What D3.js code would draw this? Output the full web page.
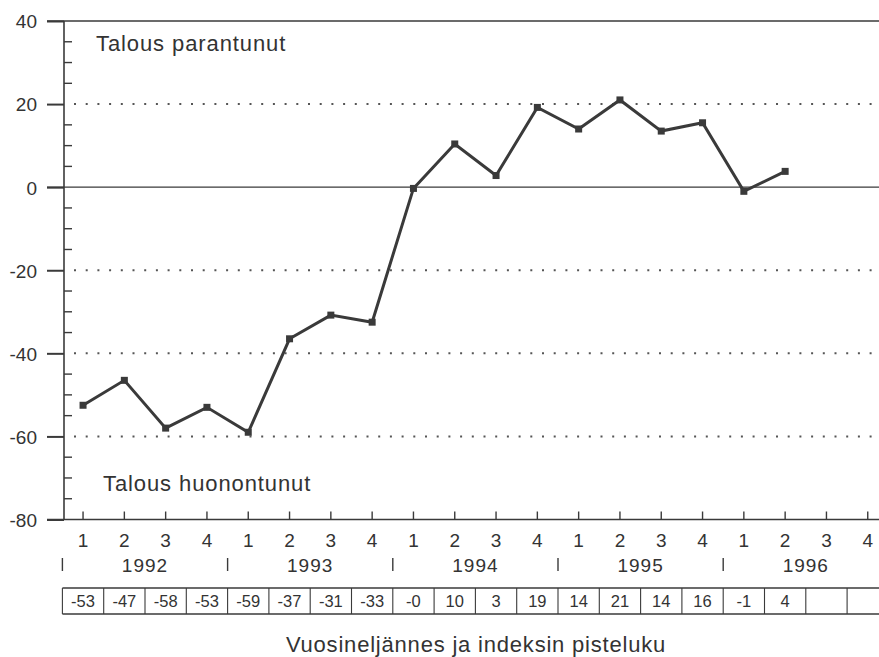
<!DOCTYPE html>
<html>
<head>
<meta charset="utf-8">
<script src="https://cdn.jsdelivr.net/npm/d3@7"></script>
<style>
  body { margin: 0; background: #fff; }
  svg text { font-family: "Liberation Sans", Arial, sans-serif; fill: #333; }
</style>
</head>
<body>
<div id="chart"></div>
<script>
// Quarters 1992 Q1 .. 1996 Q4
var years = ["1992", "1993", "1994", "1995", "1996"];
var quarterLabels = ["1", "2", "3", "4"];
// plotted index values
var indexValues = [-52.5, -46.5, -58, -53, -59, -36.5, -30.8, -32.5, -0.3, 10.4, 2.8, 19.2, 14, 21, 13.5, 15.5, -1, 3.8];
// table row under the axis
var tableLabels = ["-53", "-47", "-58", "-53", "-59", "-37", "-31", "-33", "-0", "10", "3", "19", "14", "21", "14", "16", "-1", "4", "", ""];
var yTicks = [40, 20, 0, -20, -40, -60, -80];
var dottedAt = [20, -20, -40, -60];
var upperNote = "Talous parantunut";
var lowerNote = "Talous huonontunut";
var footer = "Vuosineljännes ja indeksin pisteluku";

var W = 879, H = 657;
var ink = "#3a3a3a";

var svg = d3.select("#chart").append("svg")
    .attr("width", W)
    .attr("height", H);

// quarter index 0..19
var quarters = d3.range(years.length * 4);

var x = d3.scaleBand()
    .domain(quarters)
    .range([62.4, 888.4])
    .paddingInner(0);
var xc = function(i) { return x(i) + x.bandwidth() / 2; };

var y = d3.scaleLinear()
    .domain([-80, 40])
    .range([519.5, 21]);

var axisX = 64;

// dotted reference lines
svg.selectAll(".dot-line")
    .data(dottedAt)
    .enter().append("line")
    .attr("class", "dot-line")
    .attr("x1", 74).attr("x2", W)
    .attr("y1", function(d) { return y(d); })
    .attr("y2", function(d) { return y(d); })
    .attr("stroke", "#555")
    .attr("stroke-width", 2)
    .attr("stroke-dasharray", "2,9.7");

// solid horizontal lines (top, zero, bottom)
svg.selectAll(".solid-line")
    .data([40, 0, -80])
    .enter().append("line")
    .attr("class", "solid-line")
    .attr("x1", 47).attr("x2", W)
    .attr("y1", function(d) { return y(d); })
    .attr("y2", function(d) { return y(d); })
    .attr("stroke", ink)
    .attr("stroke-width", 1.4);

// y axis with minor ticks
var yAxis = d3.axisLeft(y)
    .tickValues(yTicks)
    .tickSize(17)
    .tickPadding(10)
    .tickFormat(function(d) { return String(d); });

var yg = svg.append("g")
    .attr("transform", "translate(" + axisX + ",0)")
    .call(yAxis);
yg.select(".domain").remove();
yg.selectAll(".tick line").attr("stroke", ink).attr("stroke-width", 2);
yg.selectAll(".tick text")
    .attr("font-size", 19)
    .attr("fill", "#333")
    .attr("dy", "0.36em");

svg.append("line")
    .attr("x1", axisX).attr("x2", axisX)
    .attr("y1", y(40)).attr("y2", y(-80))
    .attr("stroke", ink)
    .attr("stroke-width", 1.6);

var minor = d3.range(-80, 41, 5).filter(function(v) { return v % 20 !== 0; });
svg.selectAll(".minor")
    .data(minor)
    .enter().append("line")
    .attr("class", "minor")
    .attr("x1", axisX).attr("x2", axisX + 8)
    .attr("y1", function(d) { return y(d); })
    .attr("y2", function(d) { return y(d); })
    .attr("stroke", ink)
    .attr("stroke-width", 1.4);

// x axis: ticks point up from the bottom line
var xAxis = d3.axisBottom(x)
    .tickSizeInner(-8)
    .tickSizeOuter(0)
    .tickPadding(14)
    .tickFormat(function(i) { return quarterLabels[i % 4]; });

var xg = svg.append("g")
    .attr("transform", "translate(0," + y(-80) + ")")
    .call(xAxis);
xg.select(".domain").remove();
xg.selectAll(".tick line").attr("stroke", ink).attr("stroke-width", 1.4);
xg.selectAll(".tick text")
    .attr("font-size", 19)
    .attr("fill", "#333");

// year labels and separators
svg.selectAll(".year")
    .data(years)
    .enter().append("text")
    .attr("class", "year")
    .attr("x", function(d, k) { return (x(k * 4) + x(k * 4 + 3) + x.bandwidth()) / 2; })
    .attr("y", 572)
    .attr("text-anchor", "middle")
    .attr("font-size", 19)
    .attr("letter-spacing", 1)
    .text(function(d) { return d; });

svg.selectAll(".year-sep")
    .data(years)
    .enter().append("line")
    .attr("class", "year-sep")
    .attr("x1", function(d, k) { return x(k * 4); })
    .attr("x2", function(d, k) { return x(k * 4); })
    .attr("y1", 558).attr("y2", 571)
    .attr("stroke", ink)
    .attr("stroke-width", 1.4);

// value table
var tableTop = 588, tableBottom = 614;
svg.append("line")
    .attr("x1", x(0)).attr("x2", W)
    .attr("y1", tableTop).attr("y2", tableTop)
    .attr("stroke", ink).attr("stroke-width", 1.3);
svg.append("line")
    .attr("x1", x(0)).attr("x2", W)
    .attr("y1", tableBottom).attr("y2", tableBottom)
    .attr("stroke", ink).attr("stroke-width", 1.3);
svg.selectAll(".cell-sep")
    .data(quarters)
    .enter().append("line")
    .attr("class", "cell-sep")
    .attr("x1", function(i) { return x(i); })
    .attr("x2", function(i) { return x(i); })
    .attr("y1", tableTop).attr("y2", tableBottom)
    .attr("stroke", ink)
    .attr("stroke-width", 1.1);
svg.selectAll(".cell")
    .data(tableLabels)
    .enter().append("text")
    .attr("class", "cell")
    .attr("x", function(d, i) { return xc(i); })
    .attr("y", 607)
    .attr("text-anchor", "middle")
    .attr("font-size", 16.5)
    .text(function(d) { return d; });

// index line
var line = d3.line()
    .x(function(d, i) { return xc(i); })
    .y(function(d) { return y(d); });

svg.append("path")
    .datum(indexValues)
    .attr("d", line)
    .attr("fill", "none")
    .attr("stroke", ink)
    .attr("stroke-width", 3)
    .attr("stroke-linejoin", "miter");

svg.selectAll(".pt")
    .data(indexValues)
    .enter().append("rect")
    .attr("class", "pt")
    .attr("x", function(d, i) { return xc(i) - 3.5; })
    .attr("y", function(d) { return y(d) - 3.5; })
    .attr("width", 7)
    .attr("height", 7)
    .attr("fill", ink);

// notes
svg.append("text")
    .attr("x", 96).attr("y", 51)
    .attr("font-size", 22)
    .attr("letter-spacing", 0.9)
    .text(upperNote);
svg.append("text")
    .attr("x", 103).attr("y", 491)
    .attr("font-size", 22)
    .attr("letter-spacing", 0.9)
    .text(lowerNote);

svg.append("text")
    .attr("x", 476).attr("y", 652)
    .attr("text-anchor", "middle")
    .attr("font-size", 22)
    .attr("letter-spacing", 0.8)
    .text(footer);
</script>
</body>
</html>
